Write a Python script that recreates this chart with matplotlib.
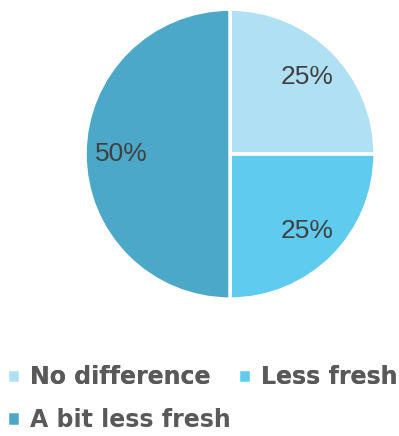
import matplotlib.pyplot as plt
from matplotlib import font_manager

labels = ["No difference", "Less fresh", "A bit less fresh"]
values = [25, 25, 50]
colors = ["#B0E0F4", "#5FCBEE", "#4BA8C8"]

names = {f.name for f in font_manager.fontManager.ttflist}
pct_font = "Liberation Sans Narrow" if "Liberation Sans Narrow" in names else "Liberation Sans"

fig = plt.figure(figsize=(3.99, 4.36), dpi=100)
ax = fig.add_axes([0.213, 0.314, 0.727, 0.665])

wedges, texts, autotexts = ax.pie(
    values,
    colors=colors,
    startangle=90,
    counterclock=False,
    autopct="%d%%",
    pctdistance=0.75,
    wedgeprops={"edgecolor": "white", "linewidth": 2.5},
    textprops={"fontsize": 19, "color": "#404040", "family": [pct_font, "DejaVu Sans"]},
)
ax.set_aspect("equal")
ax.set_xlim(-1.0, 1.0)
ax.set_ylim(-1.0, 1.0)

legend_style = dict(
    loc="center left",
    frameon=False,
    handlelength=0.55,
    handleheight=0.55,
    handletextpad=0.4,
    columnspacing=1.2,
    borderaxespad=0,
    borderpad=0,
    prop={"family": "DejaVu Sans", "weight": "bold", "size": 17},
    labelcolor="#595959",
)

# first row: two entries, second row: one entry
leg1 = fig.legend(wedges[:2], labels[:2], ncol=2, bbox_to_anchor=(0.018, 0.135), **legend_style)
fig.add_artist(leg1)
fig.legend(wedges[2:], labels[2:], ncol=1, bbox_to_anchor=(0.018, 0.037), **legend_style)

fig.savefig("out.png", dpi=100)
